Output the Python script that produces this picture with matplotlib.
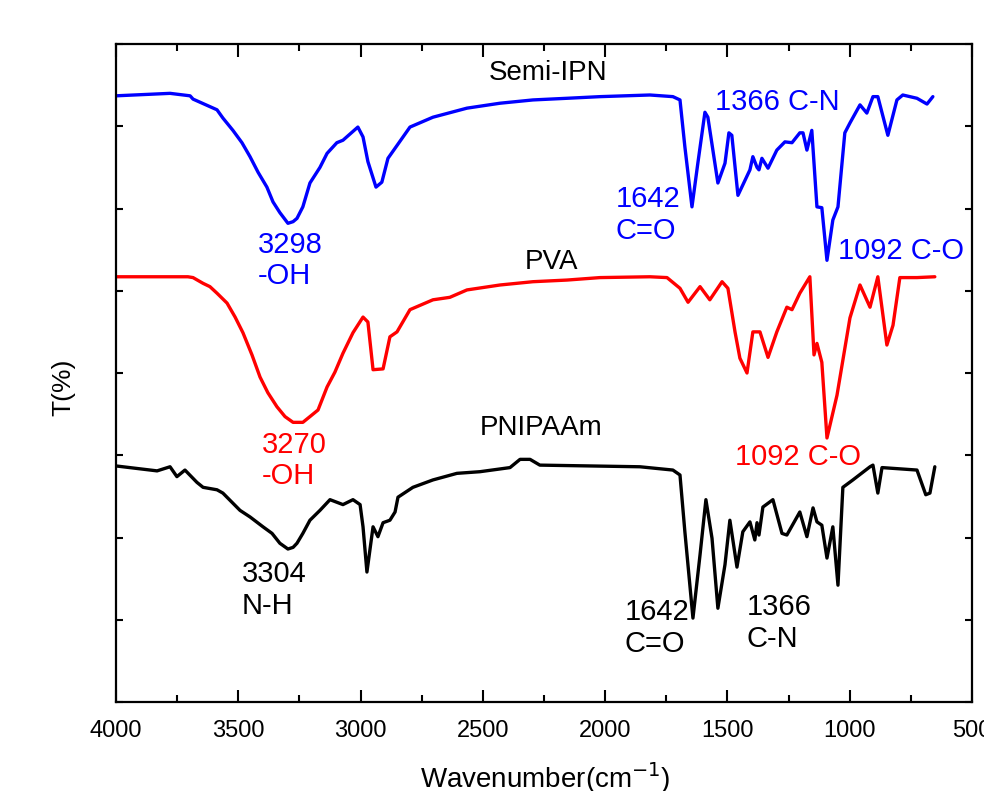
import matplotlib
matplotlib.use("Agg")
import matplotlib.pyplot as plt
from matplotlib.ticker import MultipleLocator

plt.rcParams['font.family'] = ['Liberation Sans', 'DejaVu Sans']

# ---- data (wavenumber cm^-1, transmittance in arbitrary offset units) ----
semi_wn = [4000, 3779, 3697, 3685, 3587, 3563, 3522, 3485, 3452, 3419, 3383, 3358, 3330, 3297,
           3276, 3260, 3236, 3207, 3166, 3137, 3097, 3072, 3011, 2990, 2970, 2937, 2913, 2888,
           2798, 2704, 2565, 2430, 2295, 2156, 2021, 1817, 1723, 1694, 1674,
           1645, 1621, 1592, 1580, 1539, 1510, 1494, 1482, 1457, 1408, 1396, 1379, 1371, 1359,
           1334, 1298, 1265, 1236, 1204, 1191, 1175, 1155, 1134, 1114, 1093, 1069, 1048, 1020,
           999, 958, 930, 905, 885, 844, 807, 783, 725, 684, 660]
semi_t = [7.37, 7.40, 7.37, 7.33, 7.20, 7.10, 6.95, 6.80, 6.63, 6.44, 6.26, 6.08, 5.95, 5.82,
          5.84, 5.88, 6.02, 6.31, 6.50, 6.67, 6.80, 6.83, 6.99, 6.87, 6.57, 6.26, 6.32, 6.61,
          6.99, 7.11, 7.22, 7.28, 7.32, 7.34, 7.36, 7.38, 7.36, 7.32, 6.75,
          6.02, 6.55, 7.17, 7.11, 6.31, 6.55, 6.92, 6.89, 6.16, 6.47, 6.63, 6.50, 6.47, 6.61,
          6.49, 6.71, 6.81, 6.80, 6.92, 6.92, 6.71, 6.95, 6.02, 6.01, 5.37, 5.86, 6.02, 6.92,
          7.04, 7.26, 7.16, 7.36, 7.36, 6.89, 7.32, 7.38, 7.34, 7.27, 7.36]

pva_wn = [4000, 3706, 3685, 3644, 3616, 3587, 3546, 3513, 3481, 3444, 3411, 3379, 3342, 3309,
          3276, 3260, 3236, 3207, 3174, 3137, 3105, 3072, 3031, 2990, 2970, 2949,
          2908, 2880, 2851, 2798, 2704, 2635, 2565, 2430, 2295, 2156, 2021, 1817, 1747, 1694,
          1661, 1612, 1572, 1522, 1498, 1469, 1449, 1420, 1396, 1367, 1334, 1298, 1257, 1236,
          1204, 1163, 1146, 1134, 1114, 1093, 1052, 999, 958, 917, 885, 848, 823, 795, 725, 652]
pva_t = [5.17, 5.17, 5.16, 5.09, 5.05, 4.97, 4.85, 4.68, 4.49, 4.22, 3.95, 3.76, 3.59, 3.47,
         3.40, 3.40, 3.40, 3.47, 3.55, 3.83, 4.01, 4.24, 4.49, 4.68, 4.62, 4.04,
         4.05, 4.44, 4.50, 4.77, 4.89, 4.92, 5.01, 5.07, 5.11, 5.13, 5.16, 5.17, 5.16, 5.03,
         4.86, 5.05, 4.89, 5.11, 5.03, 4.50, 4.18, 4.00, 4.50, 4.50, 4.19, 4.50, 4.80, 4.77,
         4.97, 5.17, 4.22, 4.36, 4.13, 3.21, 3.73, 4.67, 5.07, 4.80, 5.17, 4.34, 4.58, 5.16,
         5.16, 5.17]

pnipaam_wn = [4000, 3832, 3779, 3751, 3718, 3669, 3644, 3587, 3563, 3493, 3452, 3399, 3362, 3330,
              3297, 3276, 3260, 3236, 3207, 3166,
              3125, 3072, 3031, 3002, 2990, 2974, 2949, 2929, 2908, 2880, 2859, 2847, 2786, 2704,
              2606, 2512, 2389, 2348, 2307, 2267, 1858, 1723, 1694, 1674, 1641, 1612, 1588, 1563,
              1539, 1510, 1490, 1461, 1437, 1408, 1388, 1379, 1371, 1355, 1314, 1277, 1257, 1204,
              1175, 1150, 1134, 1114, 1093, 1069, 1048, 1028, 987, 917, 905, 885, 868, 725, 689,
              672, 652]
pnipaam_t = [2.87, 2.81, 2.86, 2.74, 2.82, 2.67, 2.61, 2.58, 2.54, 2.33, 2.25, 2.13, 2.05, 1.93,
             1.86, 1.88, 1.93, 2.05, 2.21, 2.33,
             2.46, 2.40, 2.46, 2.40, 2.13, 1.58, 2.13, 2.01, 2.18, 2.21, 2.31, 2.49, 2.61, 2.70,
             2.78, 2.80, 2.85, 2.95, 2.95, 2.88, 2.86, 2.82, 2.76, 2.07, 1.02, 1.79, 2.46, 1.99,
             1.14, 1.67, 2.21, 1.64, 2.07, 2.19, 1.97, 2.18, 2.03, 2.37, 2.46, 2.05, 2.03, 2.31,
             2.01, 2.36, 2.19, 2.15, 1.75, 2.13, 1.42, 2.61, 2.70, 2.86, 2.88, 2.54, 2.85, 2.82,
             2.52, 2.54, 2.86]

series_names = ["Semi-IPN", "PVA", "PNIPAAm"]
series_colors = ["#0000FF", "#FF0000", "#000000"]

# annotations: (text, wavenumber, y, color)
annotations = [
    ("3298\n-OH", 3419, 5.37, "#0000FF"),
    ("1642\nC=O", 1956, 5.92, "#0000FF"),
    ("1366 C-N", 1551, 7.29, "#0000FF"),
    ("1092 C-O", 1048, 5.48, "#0000FF"),
    ("3270\n-OH", 3403, 2.94, "#FF0000"),
    ("1092 C-O", 1469, 2.98, "#FF0000"),
    ("3304\nN-H", 3485, 1.36, "#000000"),
    ("1642\nC=O", 1919, 0.90, "#000000"),
    ("1366\nC-N", 1420, 0.96, "#000000"),
]
name_positions = [(2234, 7.65), (2218, 5.35), (2263, 3.33)]

fig = plt.figure(figsize=(9.84, 7.91), dpi=100)
ax = fig.add_axes([116/984, 89/791, 856/984, 658/791])

for wn, t, c in zip([semi_wn, pva_wn, pnipaam_wn], [semi_t, pva_t, pnipaam_t], series_colors):
    ax.plot(wn, t, color=c, lw=2.4, solid_joinstyle='round', solid_capstyle='round')

for (name, (x, y)) in zip(series_names, name_positions):
    ax.text(x, y, name, ha='center', va='center', fontsize=20, color='black')

for txt, x, y, c in annotations:
    ax.text(x, y, txt, ha='left', va='center', fontsize=21, color=c, linespacing=1.15)

ax.set_xlim(4000, 500)
ax.set_ylim(0, 8)
ax.xaxis.set_major_locator(MultipleLocator(500))
ax.xaxis.set_minor_locator(MultipleLocator(250))
ax.yaxis.set_major_locator(MultipleLocator(1))
ax.set_yticklabels([])
ax.tick_params(axis='x', which='major', direction='in', length=9, width=1.5,
               top=True, labelsize=17, pad=13)
ax.tick_params(axis='x', which='minor', direction='in', length=5, width=1.5, top=True)
ax.tick_params(axis='y', which='major', direction='in', length=5, width=1.5,
               right=True, labelleft=False)
for s in ax.spines.values():
    s.set_linewidth(1.6)

fig.text(63/984, 1 - 387/791, "T(%)", rotation=90, ha='center', va='center', fontsize=19)
fig.text(545/984, 1 - 778/791, r"Wavenumber(cm$^{-1}$)", ha='center', va='center', fontsize=20)

fig.savefig("out.png", dpi=100)
